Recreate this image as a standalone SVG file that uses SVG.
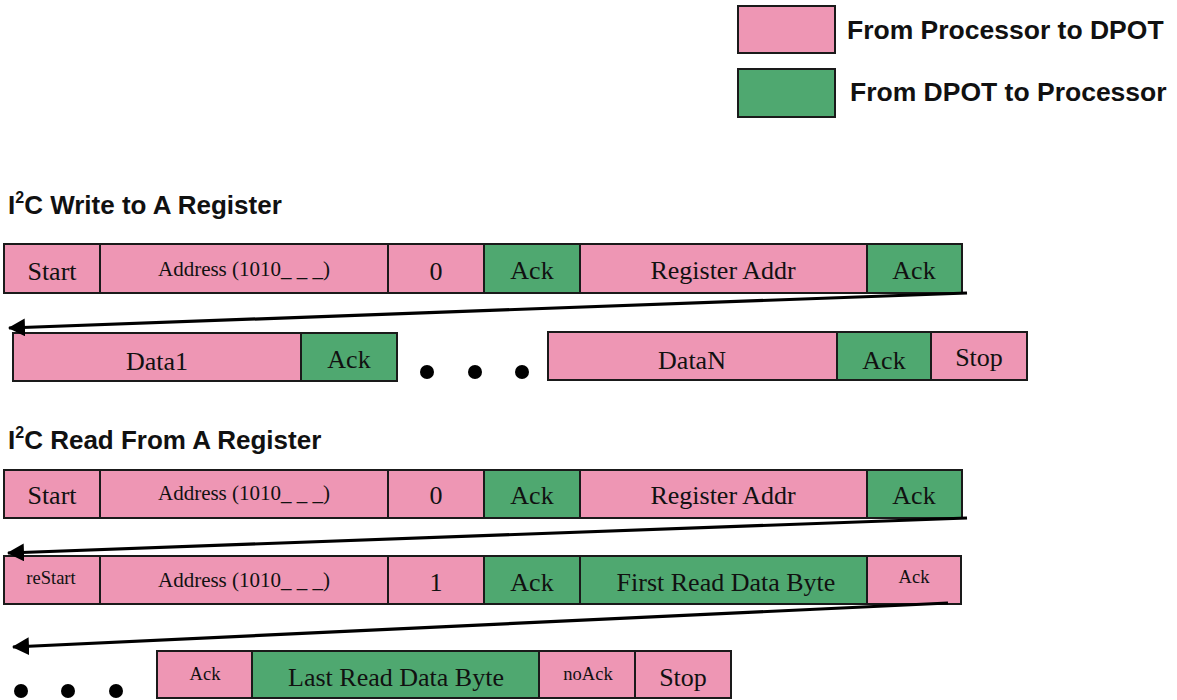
<svg xmlns="http://www.w3.org/2000/svg" width="1177" height="700" viewBox="0 0 1177 700">
<style>
.p{fill:#EE96B4;stroke:#1a1a1a;stroke-width:2}
.g{fill:#4FA870;stroke:#1a1a1a;stroke-width:2}
.t{font-family:"Liberation Serif","Times New Roman",serif;font-size:26px;fill:#111;text-anchor:middle}
.s{font-family:"Liberation Serif","Times New Roman",serif;font-size:21px;fill:#111;text-anchor:middle}
.x{font-family:"Liberation Serif","Times New Roman",serif;font-size:18.5px;fill:#111;text-anchor:middle}
.h{font-family:"Liberation Sans",Arial,sans-serif;font-size:26px;font-weight:bold;fill:#111}
.l{font-family:"Liberation Sans",Arial,sans-serif;font-size:26.5px;font-weight:bold;fill:#111}
.c{stroke:#000;stroke-width:3.2;fill:none}
.d{fill:#000}
</style>
<defs>
<marker id="ah" viewBox="0 0 17 18" refX="16" refY="9" markerWidth="17" markerHeight="18" orient="auto" markerUnits="userSpaceOnUse">
<path d="M0,0 L17,9 L0,18 z" fill="#000"/>
</marker>
</defs>

<g id="legend">
<rect class="p" x="738" y="6" width="97" height="47"/>
<text class="l" x="847" y="39">From Processor to DPOT</text>
<rect class="g" x="738" y="69" width="97" height="48"/>
<text class="l" x="850" y="101">From DPOT to Processor</text>
</g>

<g id="title-write"><text class="h" x="8" y="214">I<tspan font-size="16" dy="-11">2</tspan><tspan dy="11">C Write to A Register</tspan></text></g>

<g id="w-start"><rect class="p" x="4" y="244" width="96" height="49"/><text class="t" x="52" y="280">Start</text></g>
<g id="w-address"><rect class="p" x="100" y="244" width="288" height="49"/><text class="s" x="244" y="276">Address (1010_ _ _)</text></g>
<g id="w-rw"><rect class="p" x="388" y="244" width="96" height="49"/><text class="t" x="436" y="280">0</text></g>
<g id="w-ack1"><rect class="g" x="484" y="244" width="96" height="49"/><text class="t" x="532" y="279">Ack</text></g>
<g id="w-reg"><rect class="p" x="580" y="244" width="287" height="49"/><text class="t" x="723" y="279">Register Addr</text></g>
<g id="w-ack2"><rect class="g" x="867" y="244" width="95" height="49"/><text class="t" x="914" y="279">Ack</text></g>

<g id="w-data1"><rect class="p" x="13" y="333" width="288" height="48"/><text class="t" x="157" y="370">Data1</text></g>
<g id="w-ack3"><rect class="g" x="301" y="333" width="96" height="48"/><text class="t" x="349" y="368">Ack</text></g>
<g id="w-dots"><circle class="d" cx="427" cy="372" r="7"/><circle class="d" cx="475" cy="372" r="7"/><circle class="d" cx="522" cy="372" r="7"/></g>
<g id="w-datan"><rect class="p" x="548" y="332" width="289" height="48"/><text class="t" x="692" y="369">DataN</text></g>
<g id="w-ack4"><rect class="g" x="837" y="332" width="94" height="48"/><text class="t" x="884" y="369">Ack</text></g>
<g id="w-stop"><rect class="p" x="931" y="332" width="96" height="48"/><text class="t" x="979" y="366">Stop</text></g>

<g id="title-read"><text class="h" x="8" y="449">I<tspan font-size="16" dy="-11">2</tspan><tspan dy="11">C Read From A Register</tspan></text></g>

<g id="r-start"><rect class="p" x="4" y="470" width="96" height="48"/><text class="t" x="52" y="504">Start</text></g>
<g id="r-address"><rect class="p" x="100" y="470" width="288" height="48"/><text class="s" x="244" y="500">Address (1010_ _ _)</text></g>
<g id="r-rw"><rect class="p" x="388" y="470" width="96" height="48"/><text class="t" x="436" y="504">0</text></g>
<g id="r-ack1"><rect class="g" x="484" y="470" width="96" height="48"/><text class="t" x="532" y="504">Ack</text></g>
<g id="r-reg"><rect class="p" x="580" y="470" width="287" height="48"/><text class="t" x="723" y="504">Register Addr</text></g>
<g id="r-ack2"><rect class="g" x="867" y="470" width="95" height="48"/><text class="t" x="914" y="504">Ack</text></g>

<g id="r-restart"><rect class="p" x="4" y="556" width="96" height="48"/><text class="x" x="51" y="584">reStart</text></g>
<g id="r-address2"><rect class="p" x="100" y="556" width="288" height="48"/><text class="s" x="244" y="587">Address (1010_ _ _)</text></g>
<g id="r-rw2"><rect class="p" x="388" y="556" width="96" height="48"/><text class="t" x="436" y="591">1</text></g>
<g id="r-ack3"><rect class="g" x="484" y="556" width="96" height="48"/><text class="t" x="532" y="591">Ack</text></g>
<g id="r-first"><rect class="g" x="580" y="556" width="287" height="48"/><text class="t" x="726" y="591">First Read Data Byte</text></g>
<g id="r-ack4"><rect class="p" x="867" y="556" width="94" height="48"/><text class="x" x="914" y="583">Ack</text></g>

<g id="r-dots"><circle class="d" cx="21" cy="691" r="7"/><circle class="d" cx="68" cy="691" r="7"/><circle class="d" cx="116" cy="691" r="7"/></g>
<g id="r-ack5"><rect class="p" x="157" y="651" width="95" height="47"/><text class="x" x="205" y="680">Ack</text></g>
<g id="r-last"><rect class="g" x="252" y="651" width="287" height="47"/><text class="t" x="396" y="686">Last Read Data Byte</text></g>
<g id="r-noack"><rect class="p" x="539" y="651" width="96" height="47"/><text class="x" x="588" y="680">noAck</text></g>
<g id="r-stop"><rect class="p" x="635" y="651" width="96" height="47"/><text class="t" x="683" y="686">Stop</text></g>

<g id="connectors">
<line class="c" x1="967" y1="293" x2="9" y2="328" marker-end="url(#ah)"/>
<line class="c" x1="967" y1="518" x2="8" y2="553" marker-end="url(#ah)"/>
<line class="c" x1="948" y1="603" x2="13" y2="647" marker-end="url(#ah)"/>
</g>
</svg>
